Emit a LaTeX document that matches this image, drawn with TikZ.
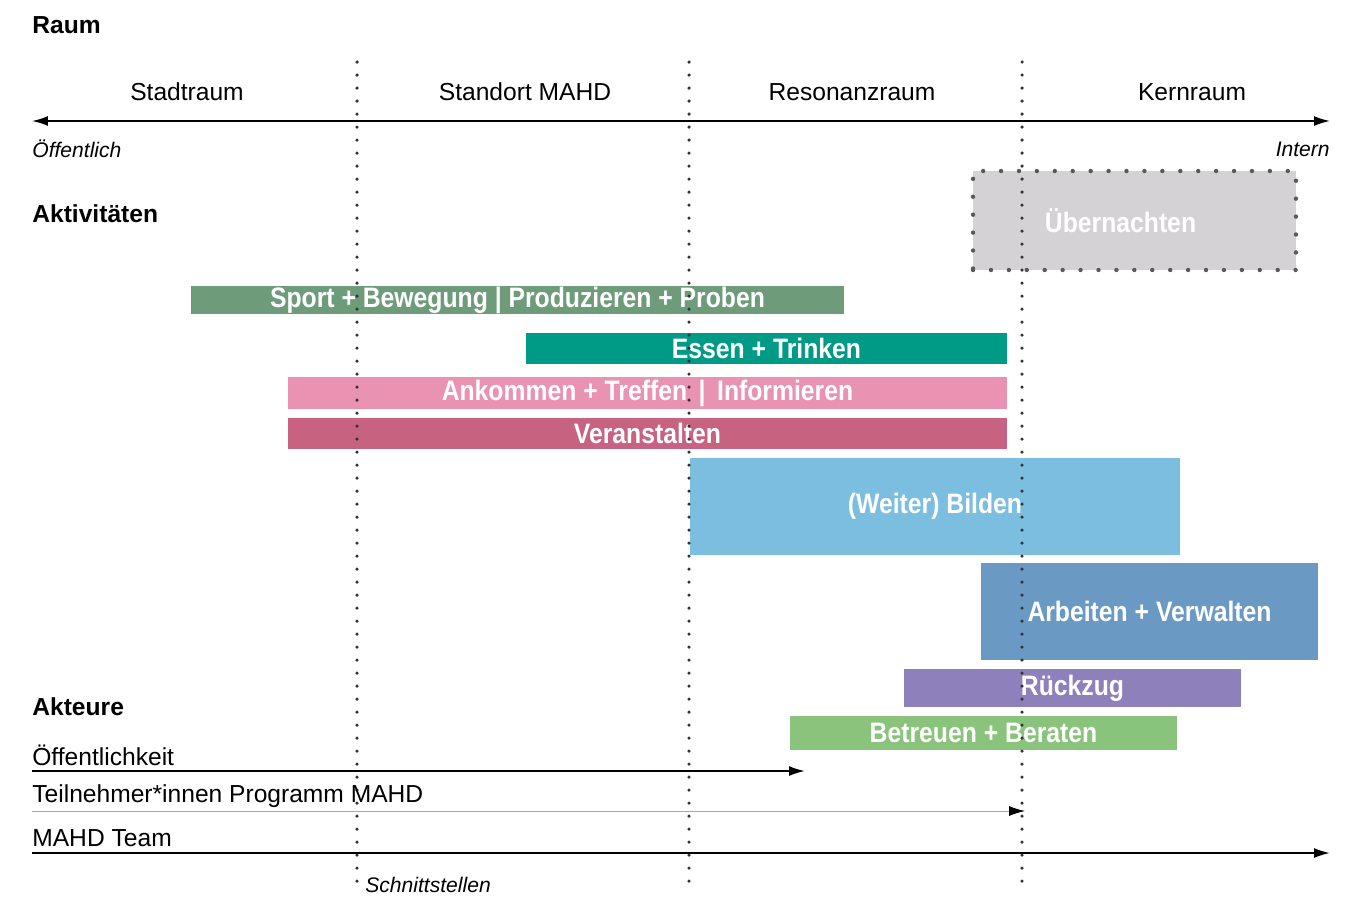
\documentclass[tikz,border=0pt]{standalone}
\usepackage{fontspec}
\setmainfont{Liberation Sans}
\newfontfamily\barfont[FakeStretch=0.88]{Liberation Sans}
\usetikzlibrary{arrows.meta, positioning}

\definecolor{sportgreen}{HTML}{6E9C7B}
\definecolor{essenteal}{HTML}{009B87}
\definecolor{ankpink}{HTML}{E992B2}
\definecolor{verred}{HTML}{C76380}
\definecolor{bildblue}{HTML}{7CBEE0}
\definecolor{arbblue}{HTML}{6A9AC4}
\definecolor{rueckpurple}{HTML}{8E80BA}
\definecolor{betrgreen}{HTML}{8AC47C}
\definecolor{uebgrey}{HTML}{D4D2D4}

\begin{document}
\begin{tikzpicture}[
    x=0.02cm, y=-0.02cm,
    heading/.style={anchor=west, inner sep=0pt, font=\fontsize{14}{16}\selectfont\bfseries},
    zone/.style={font=\fontsize{14}{16}\selectfont},
    hint/.style={inner sep=0pt, font=\fontsize{12}{14}\selectfont\itshape},
    actor/.style={anchor=west, inner sep=0pt, font=\fontsize{14}{16}\selectfont},
    bar/.style={rectangle, inner sep=0pt, text=white, font=\barfont\fontsize{16}{18}\selectfont\bfseries},
    sep/.style={line width=2pt, dash pattern=on 0pt off 7.4pt, line cap=round, black!80},
    axis/.style={line width=1pt, {Latex[length=3.2mm,width=2mm]}-{Latex[length=3.2mm,width=2mm]}},
    flow/.style={line width=1pt, -{Latex[length=3.2mm,width=2mm,color=black]}}
]
    \useasboundingbox (0,0) rectangle (1351,897);

    % Headings
    \node[heading] (raum) at (32,25) {Raum};
    \node[heading] (akt) at (32,214) {Aktivitäten};
    \node[heading] (akteure) at (32,707) {Akteure};

    % Zones
    \node[zone] (stadt) at (187,92) {Stadtraum};
    \node[zone] (standort) at (525,92) {Standort MAHD};
    \node[zone] (resonanz) at (852,92) {Resonanzraum};
    \node[zone] (kern) at (1192,92) {Kernraum};

    % Axis
    \coordinate (axl) at (32,121);
    \coordinate (axr) at (1330,121);
    \draw[axis] (axl) -- (axr);
    \node[hint, anchor=west] (oeff) at (32,149) {Öffentlich};
    \node[hint, anchor=east] (intern) at (1330,149) {Intern};

    % Activities
    \node[bar, fill=uebgrey, minimum width=6.46cm, minimum height=1.98cm,
          draw=black!65, line width=2.5pt, dash pattern=on 0pt off 10.2pt, line cap=round] (ueber) at (1134.5,220.5) {Übernachten\hspace*{0.56cm}};
    \node[bar, fill=sportgreen, minimum width=13.06cm, minimum height=0.56cm] (sport) at (517.5,300) {Sport + Bewegung | Produzieren + Proben};
    \node[bar, fill=essenteal, minimum width=9.62cm, minimum height=0.62cm] (essen) at (766.5,348.5) {Essen + Trinken};
    \node[bar, fill=ankpink, minimum width=14.38cm, minimum height=0.64cm] (ankommen) at (647.5,393) {Ankommen + Treffen \,|\, Informieren};
    \node[bar, fill=verred, minimum width=14.38cm, minimum height=0.62cm] (veranst) at (647.5,433.5) {Veranstalten};
    \node[bar, fill=bildblue, minimum width=9.8cm, minimum height=1.94cm] (bilden) at (935,506.5) {(Weiter) Bilden};
    \node[bar, fill=arbblue, minimum width=6.74cm, minimum height=1.94cm] (arbeiten) at (1149.5,611.5) {Arbeiten + Verwalten};
    \node[bar, fill=rueckpurple, minimum width=6.74cm, minimum height=0.76cm] (rueckzug) at (1072.5,688) {Rückzug};
    \node[bar, fill=betrgreen, minimum width=7.74cm, minimum height=0.68cm] (betreuen) at (983.5,733) {Betreuen + Beraten};

    % Interfaces
    \coordinate (s1top) at (357,62);
    \coordinate (s1bot) at (357,886);
    \coordinate (s2top) at (689,62);
    \coordinate (s2bot) at (689,886);
    \coordinate (s3top) at (1022,62);
    \coordinate (s3bot) at (1022,886);
    \draw[sep] (s1top) -- (s1bot);
    \draw[sep] (s2top) -- (s2bot);
    \draw[sep] (s3top) -- (s3bot);
    \node[hint, anchor=west] (schnitt) at (365,885) {Schnittstellen};

    % Actors
    \node[actor] (public) at (32,755) {Öffentlichkeit};
    \node[actor] (teiln) at (32,796) {Teilnehmer*innen Programm MAHD};
    \node[actor] (team) at (32,838) {MAHD Team};
    \coordinate (pubs) at (32,771);
    \coordinate (pube) at (805,771);
    \coordinate (teils) at (32,811);
    \coordinate (teile) at (1025,811);
    \coordinate (teams) at (32,853);
    \coordinate (teame) at (1330,853);
    \draw[flow] (pubs) -- (pube);
    \draw[flow, line width=0.5pt, draw=black!35] (teils) -- (teile);
    \draw[flow] (teams) -- (teame);
\end{tikzpicture}
\end{document}
